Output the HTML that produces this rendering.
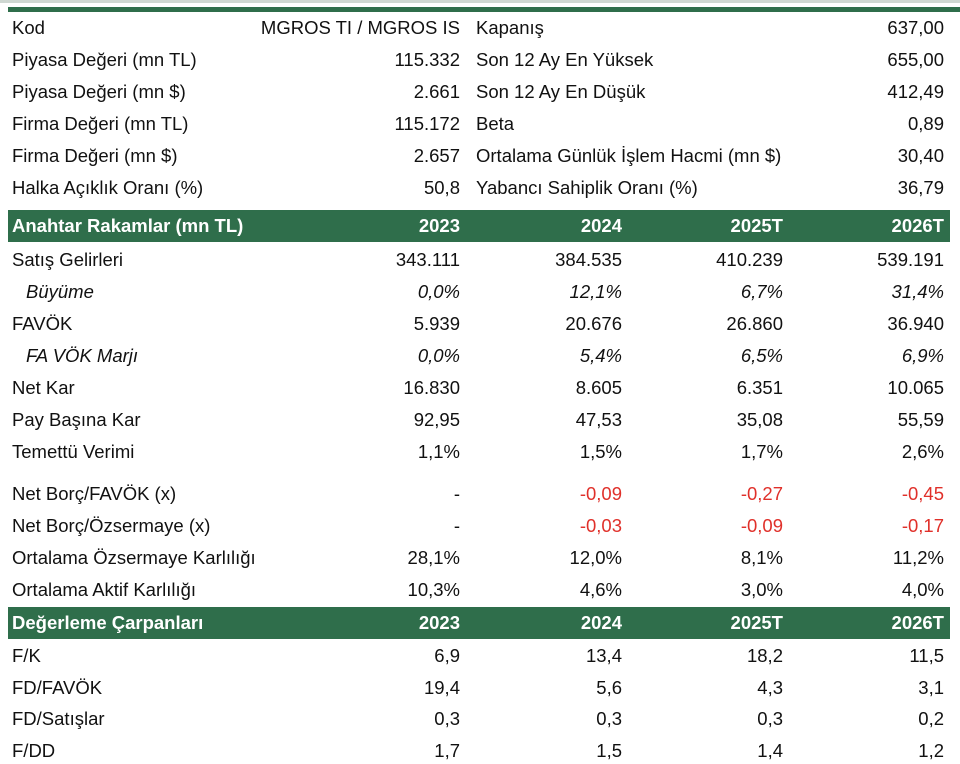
<!DOCTYPE html>
<html><head><meta charset="utf-8">
<style>
html,body{margin:0;padding:0;background:#fff;}
#wrap{position:relative;width:960px;height:764px;overflow:hidden;font-family:"Liberation Sans",sans-serif;font-size:18.5px;color:#111;}
.t{position:absolute;white-space:nowrap;line-height:22px;}
.r{text-align:right;}
.hdr{position:absolute;left:8px;width:942px;height:32px;background:#2f6e4b;}
.w{color:#fff;font-weight:bold;}
.red{color:#e0302a;}
.i{font-style:italic;}
</style></head><body>
<div id="wrap">
<div style="position:absolute;left:0;top:0;width:960px;height:3px;background:#cfd8d2"></div>
<div style="position:absolute;left:8px;top:7px;width:952px;height:5px;background:#2f6e4b"></div>
<div class="hdr" style="top:210px"></div>
<div class="hdr" style="top:607px"></div>
</div>
<script>
const wrap=document.getElementById('wrap');
function txt(s,x,y,right,cls,name){
  const d=document.createElement('div');
  d.className='t'+(right?' r':'')+(cls?' '+cls:'');
  d.textContent=s;
  d.style.top=(y-11)+'px';
  if(right){d.style.left=(x-300)+'px';d.style.width='300px';}else{d.style.left=x+'px';}
  
  
  wrap.appendChild(d);
}
const infoLeft=[["Kod","MGROS TI / MGROS IS"],["Piyasa Değeri (mn TL)","115.332"],["Piyasa Değeri (mn $)","2.661"],["Firma Değeri (mn TL)","115.172"],["Firma Değeri (mn $)","2.657"],["Halka Açıklık Oranı (%)","50,8"]];
const infoRight=[["Kapanış","637,00"],["Son 12 Ay En Yüksek","655,00"],["Son 12 Ay En Düşük","412,49"],["Beta","0,89"],["Ortalama Günlük İşlem Hacmi (mn $)","30,40"],["Yabancı Sahiplik Oranı (%)","36,79"]];
infoLeft.forEach((r,i)=>{const y=28+i*32;txt(r[0],12,y,false,'','info-label');txt(r[1],460,y,true,'','info-value');});
infoRight.forEach((r,i)=>{const y=28+i*32;txt(r[0],476,y,false,'','info-label');txt(r[1],944,y,true,'','info-value');});
const colX=[460,622,783,944];
const years=["2023","2024","2025T","2026T"];
function header(title,y){txt(title,12,y,false,'w','section-title');years.forEach((v,j)=>txt(v,colX[j],y,true,'w','year-header'));}
header("Anahtar Rakamlar (mn TL)",226);
header("Değerleme Çarpanları",623);
const keyRows=[
 ["Satış Gelirleri",["343.111","384.535","410.239","539.191"],260,""],
 ["Büyüme",["0,0%","12,1%","6,7%","31,4%"],292,"i"],
 ["FAVÖK",["5.939","20.676","26.860","36.940"],324,""],
 ["FA VÖK Marjı",["0,0%","5,4%","6,5%","6,9%"],356,"i"],
 ["Net Kar",["16.830","8.605","6.351","10.065"],388,""],
 ["Pay Başına Kar",["92,95","47,53","35,08","55,59"],420,""],
 ["Temettü Verimi",["1,1%","1,5%","1,7%","2,6%"],452,""],
 ["Net Borç/FAVÖK (x)",["-","-0,09","-0,27","-0,45"],494,""],
 ["Net Borç/Özsermaye (x)",["-","-0,03","-0,09","-0,17"],526,""],
 ["Ortalama Özsermaye Karlılığı",["28,1%","12,0%","8,1%","11,2%"],558,""],
 ["Ortalama Aktif Karlılığı",["10,3%","4,6%","3,0%","4,0%"],590,""],
 ["F/K",["6,9","13,4","18,2","11,5"],656,""],
 ["FD/FAVÖK",["19,4","5,6","4,3","3,1"],688,""],
 ["FD/Satışlar",["0,3","0,3","0,3","0,2"],719,""],
 ["F/DD",["1,7","1,5","1,4","1,2"],751,""]
];
keyRows.forEach(r=>{
  txt(r[0],r[3]?26:12,r[2],false,r[3],'row-label');
  r[1].forEach((v,j)=>{let c=r[3];if(v.startsWith('-')&&v.length>1)c=(c?c+' ':'')+'red';txt(v,colX[j],r[2],true,c,'cell-value');});
});
</script>
</body></html>
